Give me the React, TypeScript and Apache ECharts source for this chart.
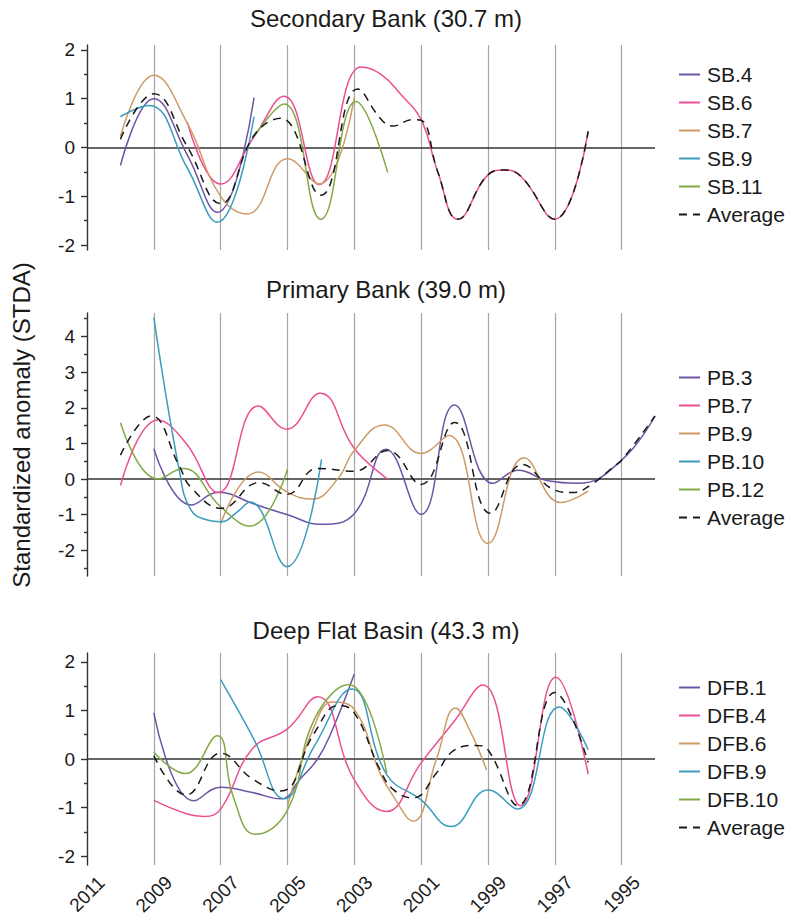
import React, { useEffect, useRef } from "react";
import * as echarts from "echarts";

type Pt = [number, number];

// ---- Secondary Bank (30.7 m) ----
const sb4: Pt[] = [[2010, -0.37], [2009, 1.0], [2008, -0.15], [2007.1, -1.33], [2006, 1.02]];
const sb6: Pt[] = [
  [2008, 0.52], [2007, -0.75], [2006, 0.22], [2005.1, 1.05], [2004.05, -0.76], [2002.8, 1.65],
  [2002.2, 1.5], [2001.6, 1.08], [2001, 0.57], [2000.5, -0.5], [1999.9, -1.47], [1999, -0.56],
  [1998.5, -0.46], [1998, -0.6], [1997, -1.47], [1996, 0.33],
];
const sb7: Pt[] = [[2010, 0.23], [2009, 1.48], [2008, 0.5], [2007, -1.0], [2006.2, -1.36], [2005, -0.23], [2004.05, -0.75], [2003, 1.02]];
const sb9: Pt[] = [[2010, 0.63], [2009.15, 0.86], [2008, -0.42], [2007.1, -1.53], [2006, 0.63]];
const sb11: Pt[] = [[2006, 0.23], [2005.1, 0.89], [2004, -1.47], [2002.95, 0.94], [2002, -0.51]];
const sbAvg: Pt[] = [
  [2010, 0.17], [2009, 1.1], [2008, 0.02], [2007, -1.15], [2006, 0.25], [2005.2, 0.6], [2004, -0.98],
  [2002.9, 1.2], [2002.2, 0.58], [2001.85, 0.44], [2001.25, 0.57], [2001, 0.56], [2000.5, -0.5],
  [1999.9, -1.47], [1999, -0.56], [1998.5, -0.46], [1998, -0.6], [1997, -1.47], [1996, 0.33],
];

// ---- Primary Bank (39.0 m) ----
const pb3: Pt[] = [
  [2009, 0.85], [2007.88, -0.73], [2007.07, -0.37], [2006, -0.7], [2005, -1.0], [2004, -1.27], [2003, -0.97],
  [2002.05, 0.84], [2001, -0.99], [2000, 2.08], [1998.85, -0.12], [1998.1, 0.25], [1997.2, -0.05],
  [1996.3, -0.12], [1995, 0.53], [1994, 1.77],
];
const pb7: Pt[] = [
  [2010, -0.18], [2008.88, 1.66], [2008.03, 1.0], [2007.07, -0.38], [2005.87, 2.05], [2005.02, 1.4],
  [2004.02, 2.41], [2003, 0.86], [2002, 0.0],
];
const pb9: Pt[] = [
  [2007, -1.26], [2005.87, 0.2], [2005.02, -0.36], [2004.27, -0.56], [2003.5, 0.0], [2003, 0.8],
  [2002.1, 1.52], [2001, 0.72], [2000.17, 1.22], [1999, -1.81], [1997.92, 0.6], [1996.82, -0.66], [1996, -0.34],
];
const pb10: Pt[] = [
  [2009, 4.54], [2008.23, 0.2], [2007.9, -0.85], [2007.4, -1.15], [2007, -1.2], [2006.5, -0.92],
  [2006.12, -0.64], [2005.02, -2.46], [2003.98, 0.55],
];
const pb12: Pt[] = [[2010, 1.58], [2008.88, 0.0], [2008.13, 0.3], [2007, -0.78], [2006.12, -1.32], [2005, 0.27]];
const pbAvg: Pt[] = [
  [2010, 0.67], [2009.08, 1.77], [2008.23, 0.35], [2007.9, -0.22], [2006.97, -0.82], [2005.85, -0.1],
  [2005.02, -0.43], [2004.1, 0.3], [2003, 0.22], [2002, 0.8], [2001, -0.15], [2000, 1.59], [1998.92, -0.96],
  [1997.97, 0.41], [1997, -0.31], [1996.47, -0.38], [1995.9, -0.15], [1995.3, 0.3], [1995, 0.53], [1994, 1.77],
];

// ---- Deep Flat Basin (43.3 m) ----
const dfb1: Pt[] = [
  [2009, 0.95], [2007.8, -0.86], [2007, -0.58], [2006.05, -0.69], [2005.2, -0.82], [2004.62, -0.41],
  [2004.1, 0.0], [2003.7, 0.53], [2003, 1.75],
];
const dfb4: Pt[] = [
  [2009, -0.85], [2008, -1.13], [2007.5, -1.18], [2007, -1.03], [2006.05, 0.21], [2005, 0.62], [2004.1, 1.28],
  [2003, -0.43], [2002.05, -1.08], [2001, -0.08], [2000.05, 0.74], [1999.15, 1.52], [1998.02, -0.96],
  [1996.97, 1.68], [1996, -0.31],
];
const dfb6: Pt[] = [
  [2005, -0.97], [2004.2, 0.67], [2003.65, 1.17], [2003, 1.02], [2002.23, -0.29], [2001.83, -0.77],
  [2001.24, -1.28], [2000.54, 0.0], [1999.97, 1.05], [1999.55, 0.6], [1999.04, -0.23],
];
const dfb9: Pt[] = [
  [2007, 1.63], [2006, 0.4], [2005.1, -0.82], [2004.2, 0.26], [2003.07, 1.44], [2002.03, -0.32], [2001, -0.84],
  [2000.1, -1.39], [1999, -0.64], [1998.12, -1.03], [1996.87, 1.07], [1996, 0.19],
];
const dfb10: Pt[] = [
  [2009, 0.14], [2008.06, -0.3], [2007.1, 0.48], [2006.63, -0.76], [2005.97, -1.55], [2005, -1.05],
  [2004.2, 0.81], [2003.17, 1.53], [2002.03, -0.29],
];
const dfbAvg: Pt[] = [
  [2009, 0.07], [2008.03, -0.74], [2007, 0.12], [2006.05, -0.41], [2005.2, -0.66], [2004.2, 0.53],
  [2003.47, 1.1], [2003, 0.95], [2002.23, -0.22], [2001.83, -0.63], [2001.24, -0.8], [2000.54, -0.29],
  [2000.05, 0.16], [1999.36, 0.28], [1999, 0.19], [1998.1, -0.96], [1997, 1.37], [1996, -0.07],
];

// ---- axes ----
const xLabelYears = [2011, 2009, 2007, 2005, 2003, 2001, 1999, 1997, 1995];
const gridYears = [2009, 2007, 2005, 2003, 2001, 1999, 1997, 1995];
const yMajorSmall = [-2, -1, 0, 1, 2];
const yMinorSmall = [-1.5, -0.5, 0.5, 1.5];
const yMajorPB = [-2, -1, 0, 1, 2, 3, 4];
const yMinorPB = [-2.5, -1.5, -0.5, 0.5, 1.5, 2.5, 3.5, 4.5];

const FONT = "'Liberation Sans', Arial, Helvetica, sans-serif";
const INK = "#1a1a1a";
const PURPLE = "#6E55A3";
const PINK = "#EC4F93";
const TAN = "#CD9A68";
const TEAL = "#3A9DBD";
const GREEN = "#83A947";

type SeriesDef = { name: string; data: Pt[]; color: string; dashed?: boolean };
type Panel = {
  title: string; top: number; height: number; min: number; max: number;
  major: number[]; minor: number[]; legendTop: number; titleTop: number; series: SeriesDef[];
};

const panels: Panel[] = [
  {
    title: "Secondary Bank (30.7 m)", top: 45, height: 205, min: -2.1, max: 2.1,
    major: yMajorSmall, minor: yMinorSmall, legendTop: 64, titleTop: 6,
    series: [
      { name: "SB.4", data: sb4, color: PURPLE },
      { name: "SB.6", data: sb6, color: PINK },
      { name: "SB.7", data: sb7, color: TAN },
      { name: "SB.9", data: sb9, color: TEAL },
      { name: "SB.11", data: sb11, color: GREEN },
      { name: "Average", data: sbAvg, color: INK, dashed: true },
    ],
  },
  {
    title: "Primary Bank (39.0 m)", top: 313, height: 263, min: -2.72, max: 4.66,
    major: yMajorPB, minor: yMinorPB, legendTop: 367, titleTop: 277,
    series: [
      { name: "PB.3", data: pb3, color: PURPLE },
      { name: "PB.7", data: pb7, color: PINK },
      { name: "PB.9", data: pb9, color: TAN },
      { name: "PB.10", data: pb10, color: TEAL },
      { name: "PB.12", data: pb12, color: GREEN },
      { name: "Average", data: pbAvg, color: INK, dashed: true },
    ],
  },
  {
    title: "Deep Flat Basin (43.3 m)", top: 653, height: 212, min: -2.18, max: 2.18,
    major: yMajorSmall, minor: yMinorSmall, legendTop: 677, titleTop: 618,
    series: [
      { name: "DFB.1", data: dfb1, color: PURPLE },
      { name: "DFB.4", data: dfb4, color: PINK },
      { name: "DFB.6", data: dfb6, color: TAN },
      { name: "DFB.9", data: dfb9, color: TEAL },
      { name: "DFB.10", data: dfb10, color: GREEN },
      { name: "Average", data: dfbAvg, color: INK, dashed: true },
    ],
  },
];

const PLOT_LEFT = 87;
const PLOT_WIDTH = 568;
const TITLE_CENTER = 386;

function buildOption(): echarts.EChartsOption {
  const grid: any[] = [];
  const xAxis: any[] = [];
  const yAxis: any[] = [];
  const series: any[] = [];
  const legend: any[] = [];
  const title: any[] = [];

  panels.forEach((p, i) => {
    grid.push({
      left: PLOT_LEFT, width: PLOT_WIDTH, top: p.top, height: p.height,
      containLabel: false, outerBoundsMode: "none",
    });
    const isLast = i === panels.length - 1;
    xAxis.push({
      type: "value", gridIndex: i, min: 1994, max: 2011, inverse: true,
      axisLine: { show: false }, axisTick: { show: false }, splitLine: { show: false },
      axisLabel: isLast
        ? {
            show: true, customValues: xLabelYears, rotate: 45, margin: 29,
            align: "center", verticalAlign: "middle",
            formatter: (v: number) => String(Math.round(v)),
            fontSize: 19, fontFamily: FONT, color: INK,
          }
        : { show: false },
    });
    // main axis: line, major ticks, labels
    yAxis.push({
      type: "value", gridIndex: i, min: p.min, max: p.max, position: "left",
      axisLine: { show: true, lineStyle: { color: "#333", width: 1.4 } },
      axisTick: { show: true, customValues: p.major, length: 6, lineStyle: { color: "#333", width: 1.4 } },
      axisLabel: { show: true, customValues: p.major, margin: 12, fontSize: 19, fontFamily: FONT, color: INK },
      splitLine: { show: false },
    });
    // companion axis carrying the half-unit minor ticks
    yAxis.push({
      type: "value", gridIndex: i, min: p.min, max: p.max, position: "left",
      axisLine: { show: false },
      axisTick: { show: true, customValues: p.minor, length: 3, lineStyle: { color: "#333", width: 1.4 } },
      axisLabel: { show: false },
      splitLine: { show: false },
    });

    p.series.forEach((s, k) => {
      const item: any = {
        type: "line", name: s.name, xAxisIndex: i, yAxisIndex: i * 2, data: s.data,
        smooth: 0.45, symbol: "none", showSymbol: false, silent: true, z: s.dashed ? 4 : 3,
        color: s.color,
        lineStyle: { color: s.color, width: 1.5, type: s.dashed ? [8, 6] : "solid" },
      };
      if (k === 0) {
        item.markLine = {
          silent: true, symbol: "none", z: 1, label: { show: false }, animation: false,
          data: [
            ...gridYears.map((yr) => ({ xAxis: yr, lineStyle: { color: "#a6a6a6", width: 1.2, type: "solid" } })),
            { yAxis: 0, lineStyle: { color: "#333", width: 1.6, type: "solid" } },
          ],
        };
      }
      series.push(item);
    });

    legend.push({
      data: p.series.map((s) => s.name), orient: "vertical", left: 678, top: p.legendTop,
      padding: 0, itemWidth: 21, itemHeight: 10, itemGap: 7, selectedMode: false,
      itemStyle: { opacity: 0 },
      textStyle: { fontSize: 21, fontFamily: FONT, color: INK, padding: [0, 0, 0, 2] },
    });

    title.push({
      text: p.title, left: TITLE_CENTER, textAlign: "center", top: p.titleTop, padding: 0,
      textStyle: { fontSize: 24, fontWeight: "normal", fontFamily: FONT, color: INK },
    });
  });

  return {
    animation: false,
    backgroundColor: "#ffffff",
    title, grid, xAxis, yAxis, series, legend,
    graphic: [
      {
        type: "text", x: 21, y: 425, rotation: Math.PI / 2,
        style: {
          text: "Standardized anomaly (STDA)", fontSize: 24, fontFamily: FONT, fill: INK,
          align: "center", verticalAlign: "middle",
        },
      },
    ],
  };
}

export default function App() {
  const ref = useRef<HTMLDivElement>(null);
  useEffect(() => {
    document.body.style.margin = "0";
    if (!ref.current) return;
    const chart = echarts.init(ref.current, undefined, { renderer: "svg" });
    chart.setOption(buildOption());
    return () => chart.dispose();
  }, []);
  return <div ref={ref} style={{ width: 790, height: 918 }} />;
}
